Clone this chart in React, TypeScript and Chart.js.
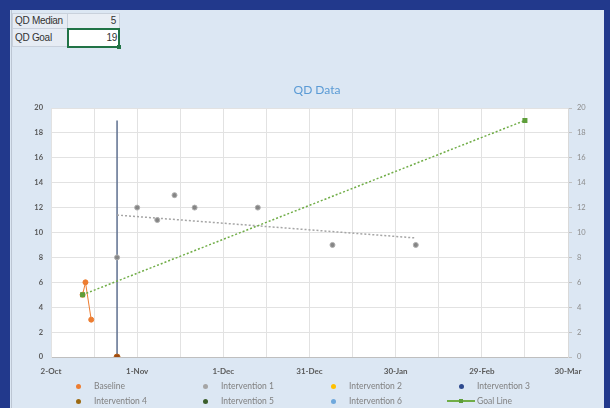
import React, { useEffect, useRef } from "react";
import { Chart, registerables } from "chart.js";

Chart.register(...registerables);

// ---------- data ----------
const START_DATE = "2019-10-02";
const xTickDates = ["2019-10-02", "2019-11-01", "2019-12-01", "2019-12-31", "2020-01-30", "2020-02-29", "2020-03-30"];
const xTickLabels = ["2-Oct", "1-Nov", "1-Dec", "31-Dec", "30-Jan", "29-Feb", "30-Mar"];
const yMin = 0;
const yMax = 20;
const yStep = 2;

const baselineDates = ["2019-10-13", "2019-10-14", "2019-10-16"];
const baselineValues = [5, 6, 3];

const int1Dates = ["2019-10-25", "2019-11-01", "2019-11-08", "2019-11-14", "2019-11-21", "2019-12-13", "2020-01-08", "2020-02-06"];
const int1Values = [8, 12, 11, 13, 12, 12, 9, 9];

const int1TrendDates = ["2019-10-25", "2020-02-06"];
const int1TrendValues = [11.4, 9.56];

const int4Dates = ["2019-10-25"];
const int4Values = [0];

const phaseLineDates = ["2019-10-25", "2019-10-25"];
const phaseLineValues = [0, 19];

const goalDates = ["2019-10-13", "2020-03-15"];
const goalValues = [5, 19];

const chartTitle = "QD Data";
const cellLabels = ["QD Median", "QD Goal"];
const qdMedian = 5;
const qdGoal = 19;

const legendLabels = ["Baseline", "Intervention 1", "Intervention 2", "Intervention 3", "Intervention 4", "Intervention 5", "Intervention 6", "Goal Line"];
const legendColors = ["#ED7D31", "#A5A5A5", "#FFC000", "#2E4A8E", "#9C6A12", "#3B5E2B", "#6FA8DC", "#70AD47"];

// ---------- helpers ----------
const DAY = 86400000;
const dayOf = (d: string) => Math.round((Date.parse(d + "T00:00:00Z") - Date.parse(START_DATE + "T00:00:00Z")) / DAY);
const pts = (dates: string[], values: number[]) => dates.map((d, i) => ({ x: dayOf(d), y: values[i] }));
const tickMap: Record<number, string> = {};
xTickDates.forEach((d, i) => (tickMap[dayOf(d)] = xTickLabels[i]));
const xMax = dayOf(xTickDates[xTickDates.length - 1]);

const FONT = "Lato, 'DejaVu Sans', sans-serif";

const plotBg = {
  id: "plotBg",
  beforeDraw(chart: any) {
    const { ctx, chartArea } = chart;
    ctx.save();
    ctx.fillStyle = "#FFFFFF";
    ctx.fillRect(chartArea.left, chartArea.top, chartArea.width, chartArea.height);
    ctx.restore();
  },
};

export default function App() {
  const ref = useRef<HTMLCanvasElement | null>(null);

  useEffect(() => {
    if (!ref.current) return;
    const chart = new Chart(ref.current, {
      type: "scatter",
      data: {
        datasets: [
          {
            label: "Goal Line",
            data: pts(goalDates, goalValues),
            showLine: true,
            borderColor: "#70AD47",
            backgroundColor: "#5E9E3A",
            borderWidth: 1.5,
            borderDash: [2, 2],
            pointStyle: "rect",
            pointRadius: 2.5,
            pointBorderColor: "#5E9E3A",
            order: 1,
          },
          {
            label: "Intervention 4",
            data: pts(int4Dates, int4Values),
            backgroundColor: "#9E4A12",
            borderColor: "#B5651D",
            pointRadius: 3,
            order: 2,
          },
          {
            label: "Intervention 1",
            data: pts(int1Dates, int1Values),
            backgroundColor: "#858585",
            borderColor: "#B0B0B0",
            borderWidth: 1,
            pointRadius: 2.5,
            order: 3,
          },
          {
            label: "Baseline",
            data: pts(baselineDates, baselineValues),
            showLine: true,
            borderColor: "#ED7D31",
            backgroundColor: "#ED7D31",
            borderWidth: 1,
            pointRadius: 2.5,
            order: 4,
          },
          {
            label: "Intervention 1 trend",
            data: pts(int1TrendDates, int1TrendValues),
            showLine: true,
            borderColor: "#A5A5A5",
            borderWidth: 1.5,
            borderDash: [2, 2],
            pointRadius: 0,
            order: 5,
          },
          {
            label: "Phase line",
            data: pts(phaseLineDates, phaseLineValues),
            showLine: true,
            borderColor: "#5D6F8F",
            borderWidth: 1.5,
            pointRadius: 0,
            order: 6,
          },
          { label: "Intervention 2", data: [], backgroundColor: "#FFC000", order: 7 },
          { label: "Intervention 3", data: [], backgroundColor: "#2E4A8E", order: 8 },
          { label: "Intervention 5", data: [], backgroundColor: "#3B5E2B", order: 9 },
          { label: "Intervention 6", data: [], backgroundColor: "#6FA8DC", order: 10 },
        ],
      },
      options: {
        animation: false,
        responsive: false,
        layout: { padding: { left: 0, right: 0, top: 46, bottom: 31 } },
        plugins: {
          legend: { display: false },
          tooltip: { enabled: false },
          title: { display: false },
        },
        scales: {
          x: {
            type: "linear",
            min: 0,
            max: xMax,
            afterFit: (s: any) => {
              s.height = 20;
            },
            ticks: {
              stepSize: 15,
              autoSkip: false,
              maxRotation: 0,
              padding: 10,
              color: "#595959",
              font: { family: FONT, size: 8, weight: "bold" },
              callback: (v: any) => tickMap[Math.round(Number(v))] ?? "",
            },
            grid: { color: "#E2E2E2", drawTicks: false, lineWidth: 1 },
            border: { color: "#BFBFBF" },
          },
          y: {
            type: "linear",
            position: "left",
            min: yMin,
            max: yMax,
            afterFit: (s: any) => {
              s.width = 40;
            },
            ticks: {
              stepSize: yStep,
              padding: 8,
              color: "#595959",
              font: { family: FONT, size: 7.5, weight: "bold" },
            },
            grid: { color: "#E2E2E2", drawTicks: false },
            border: { color: "#E2E2E2" },
          },
          y2: {
            type: "linear",
            position: "right",
            min: yMin,
            max: yMax,
            afterFit: (s: any) => {
              s.width = 35;
            },
            ticks: {
              stepSize: yStep,
              padding: 5,
              color: "#8C8C8C",
              font: { family: FONT, size: 7.5 },
            },
            grid: { drawOnChartArea: false, drawTicks: true, tickLength: 4, color: "#BFBFBF" },
            border: { color: "#D9D9D9" },
          },
        },
      },
      plugins: [plotBg],
    } as any);
    return () => chart.destroy();
  }, []);

  const colX = [78, 205, 333, 461];
  const rowY = [386, 401];

  const cell = (left: number, top: number, w: number, h: number, text: string, align: "left" | "right", bg: string, selected = false) => (
    <div
      style={{
        position: "absolute",
        left,
        top,
        width: w,
        height: h,
        boxSizing: "border-box",
        border: selected ? "2px solid #217346" : "1px solid #C9D1DC",
        background: bg,
        fontFamily: "'Liberation Sans', Arial, sans-serif",
        fontSize: 10,
        color: "#333",
        lineHeight: `${h - (selected ? 4 : 2)}px`,
        textAlign: align,
        paddingLeft: align === "left" ? 2 : 0,
        paddingRight: align === "right" ? (selected ? 1 : 3) : 0,
        whiteSpace: "nowrap",
        overflow: "hidden",
        letterSpacing: -0.3,
      }}
    >
      {text}
    </div>
  );

  return (
    <div style={{ position: "fixed", left: 0, top: 0, width: 610, height: 408, background: "#22398C", overflow: "hidden" }}>
      <div style={{ position: "absolute", left: 10, top: 10, width: 594, height: 398, background: "#DCE7F3" }} />
      <div style={{ position: "absolute", left: 11, top: 10, width: 1, height: 398, background: "#BCC6D3" }} />
      {cell(12, 13, 56, 16, cellLabels[0], "left", "#E6ECF4")}
      {cell(67, 13, 53, 16, String(qdMedian), "right", "#E9EEF5")}
      {cell(12, 28, 56, 19, cellLabels[1], "left", "#E6ECF4")}
      {cell(67, 28, 53, 20, String(qdGoal), "right", "#FFFFFF", true)}
      <div style={{ position: "absolute", left: 117, top: 45, width: 4, height: 4, background: "#217346" }} />
      <canvas ref={ref} width={592} height={346} style={{ position: "absolute", left: 11, top: 62, width: 592, height: 346 }} />
      <div
        style={{
          position: "absolute",
          left: 217,
          top: 82,
          width: 200,
          height: 16,
          lineHeight: "16px",
          textAlign: "center",
          fontFamily: FONT,
          fontSize: 12,
          color: "#5B9BD5",
        }}
      >
        {chartTitle}
      </div>
      {legendLabels.map((lab, i) => {
        const cx = colX[i % 4];
        const cy = rowY[Math.floor(i / 4)];
        const isLine = lab === "Goal Line";
        return (
          <React.Fragment key={lab}>
            {isLine ? (
              <>
                <div style={{ position: "absolute", left: cx - 14, top: cy - 1, width: 28, height: 2, background: legendColors[i] }} />
                <div style={{ position: "absolute", left: cx - 2, top: cy - 2, width: 4, height: 4, background: "#5E9E3A" }} />
              </>
            ) : (
              <div style={{ position: "absolute", left: cx - 2.5, top: cy - 2.5, width: 5, height: 5, borderRadius: "50%", background: legendColors[i] }} />
            )}
            <div
              style={{
                position: "absolute",
                left: cx + 16,
                top: cy - 6,
                height: 12,
                lineHeight: "12px",
                fontFamily: FONT,
                fontSize: 8.5,
                color: "#808080",
                whiteSpace: "nowrap",
              }}
            >
              {lab}
            </div>
          </React.Fragment>
        );
      })}
    </div>
  );
}
